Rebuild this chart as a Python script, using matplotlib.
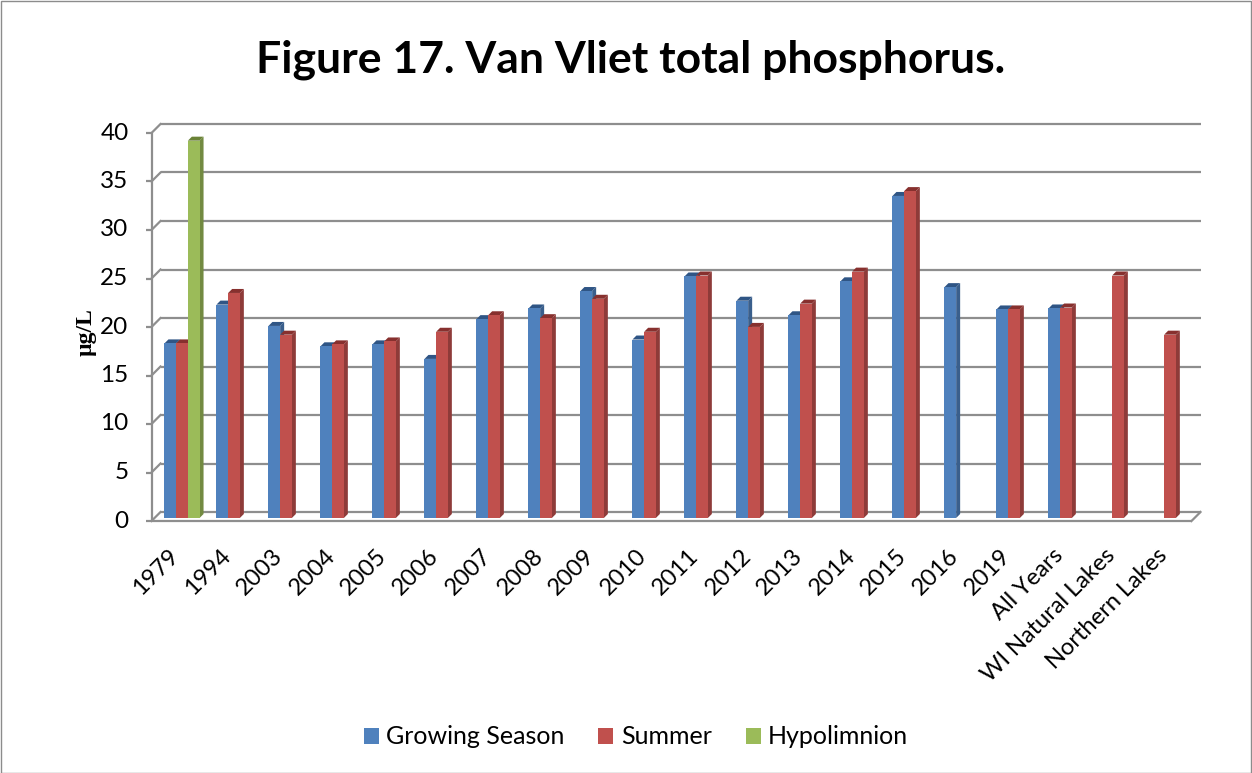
import numpy as np
import matplotlib
matplotlib.use("Agg")
import matplotlib.pyplot as plt
from matplotlib.patches import Polygon, Rectangle, Patch
from matplotlib.transforms import offset_copy

plt.rcParams['font.family'] = ['Lato', 'DejaVu Sans']

categories = ["1979", "1994", "2003", "2004", "2005", "2006", "2007", "2008",
              "2009", "2010", "2011", "2012", "2013", "2014", "2015", "2016",
              "2019", "All Years", "WI Natural Lakes", "Northern Lakes"]
growing_season = [18.0, 22.0, 19.8, 17.7, 17.9, 16.4, 20.5, 21.6, 23.4, 18.4,
                  24.9, 22.4, 20.9, 24.4, 33.2, 23.8, 21.5, 21.6, np.nan, np.nan]
summer = [18.0, 23.2, 18.9, 17.9, 18.2, 19.2, 20.9, 20.6, 22.6, 19.2,
          25.0, 19.7, 22.1, 25.4, 33.7, np.nan, 21.5, 21.7, 25.0, 18.9]
hypolimnion = [38.9] + [np.nan] * 19
series_names = ["Growing Season", "Summer", "Hypolimnion"]
yticks = [0, 5, 10, 15, 20, 25, 30, 35, 40]

front_colors = ["#4F81BD", "#C0504D", "#9BBB59"]
side_colors = ["#3A5F8C", "#8E3B39", "#728A41"]
top_colors = ["#2F5585", "#87302E", "#6A8236"]
grid_color = "#8E8E8E"

W, H = 1252, 773
fig = plt.figure(figsize=(W / 100, H / 100), dpi=100)
fig.patch.set_facecolor("white")
fig.add_artist(Rectangle((0.5 / W, 0.5 / H), 1 - 1.5 / W, 1 - 1.5 / H,
                         transform=fig.transFigure, fill=False,
                         edgecolor="#8C8C8C", lw=1.0))

# axes placed in the middle depth plane of the 3-D box
ax_l, ax_r, ax_b, ax_t = 156, 1196, 518, 130
ax = fig.add_axes([ax_l / W, (H - ax_b) / H, (ax_r - ax_l) / W, (ax_b - ax_t) / H])
xmin, xmax = -0.5, len(categories) - 0.5
ymin, ymax = 0, 40
ax.set_xlim(xmin, xmax)
ax.set_ylim(ymin, ymax)
ax.axis("off")

px_x = (xmax - xmin) / (ax_r - ax_l)
px_y = (ymax - ymin) / (ax_b - ax_t)

back = offset_copy(ax.transData, fig=fig, x=4.5, y=6, units="dots")
front = offset_copy(ax.transData, fig=fig, x=-4.5, y=-3, units="dots")

# back wall gridlines and left wall diagonals
for v in yticks:
    ax.plot([xmin, xmax], [v, v], color=grid_color, lw=1.6,
            transform=back, zorder=1, clip_on=False, solid_capstyle="butt")
    fx, fy = front.transform((xmin, v))
    bx, by = back.transform((xmin, v))
    fig.add_artist(plt.Line2D([fx / W, bx / W], [fy / H, by / H],
                              color=grid_color, lw=1.6, transform=fig.transFigure,
                              zorder=1))

# floor front edge and right diagonal
ax.plot([xmin, xmax], [0, 0], color=grid_color, lw=1.6, transform=front,
        zorder=1, clip_on=False, solid_capstyle="butt")
fx, fy = front.transform((xmax, 0))
bx, by = back.transform((xmax, 0))
fig.add_artist(plt.Line2D([fx / W, bx / W], [fy / H, by / H], color=grid_color,
                          lw=1.6, transform=fig.transFigure, zorder=1))

# front vertical axis with ticks and labels
ax.plot([xmin, xmin], [ymin, ymax], color=grid_color, lw=1.6, transform=front,
        zorder=2, clip_on=False, solid_capstyle="butt")
for v in yticks:
    ax.plot([xmin - 6 * px_x, xmin], [v, v], color=grid_color, lw=1.6,
            transform=front, zorder=2, clip_on=False, solid_capstyle="butt")
    ax.text(xmin - 23 * px_x, v, str(v), transform=front, ha="right",
            va="center", fontsize=17.5, color="black", clip_on=False)

# 3-D looking bars
bar_w = 11.7 * px_x
dd_x = 4 * px_x
dd_y = 4 * px_y
all_series = [growing_season, summer, hypolimnion]
for i in range(len(categories)):
    for s, vals in enumerate(all_series):
        v = vals[i]
        if np.isnan(v):
            continue
        x0 = i + (s - 1) * bar_w - bar_w / 2
        x1 = x0 + bar_w
        z = 3 + i * 0.01 + s * 0.001
        side = Polygon([(x1, 0), (x1 + dd_x, dd_y), (x1 + dd_x, v + dd_y), (x1, v)],
                       closed=True, facecolor=side_colors[s], edgecolor="none",
                       zorder=z)
        top = Polygon([(x0, v), (x1, v), (x1 + dd_x, v + dd_y), (x0 + dd_x, v + dd_y)],
                      closed=True, facecolor=top_colors[s], edgecolor="none",
                      zorder=z)
        ax.add_patch(side)
        ax.add_patch(top)
        ax.bar(x0, v, width=bar_w, align="edge", color=front_colors[s],
               edgecolor="none", zorder=z + 0.0005)

# category labels
for i, name in enumerate(categories):
    ax.text(i + 1 * px_x, -27 * px_y, name, rotation=45, ha="right", va="top",
            fontsize=17, color="black", clip_on=False,
            transform=ax.transData)

fig.text(0.504, 1 - 60 / H, "Figure 17. Van Vliet total phosphorus.",
         ha="center", va="center", fontsize=32, fontweight="bold")
fig.text(86 / W, 1 - 332 / H, "µg/L", rotation=90, ha="center", va="center",
         fontsize=17, fontweight="bold", family=["Liberation Serif", "DejaVu Serif"])

handles = [Patch(facecolor=c, edgecolor="none") for c in front_colors]
fig.legend(handles, series_names, loc="center", bbox_to_anchor=(636 / W, 1 - 737 / H),
           ncol=3, frameon=False, fontsize=18, handlelength=0.6, handleheight=0.6,
           handletextpad=0.3, columnspacing=1.35)

fig.savefig("out.png", dpi=100)
